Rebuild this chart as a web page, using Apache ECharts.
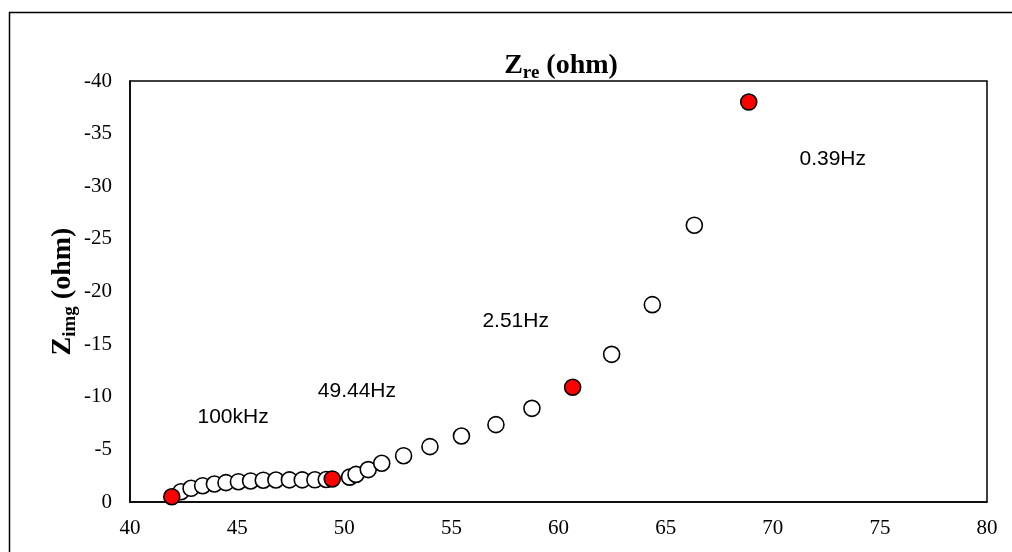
<!DOCTYPE html>
<html>
<head>
<meta charset="utf-8">
<script src="https://cdn.jsdelivr.net/npm/echarts@6/dist/echarts.min.js"></script>
<style>
  html, body { margin: 0; padding: 0; background: #fff; }
  #chart { width: 1012px; height: 552px; }
</style>
</head>
<body>
<div id="chart"></div>
<script>
// impedance points, in frequency order (high -> low)
var zRe = [41.95, 42.38, 42.85, 43.39, 43.94, 44.48, 45.06, 45.63, 46.22, 46.81, 47.44, 48.04, 48.63, 49.16, 49.44,
    50.25, 50.55, 51.12, 51.75, 52.77, 54.00, 55.47, 57.08, 58.76, 60.66, 62.48, 64.38, 66.34, 68.88];
var zImg = [-0.50, -0.98, -1.30, -1.55, -1.71, -1.84, -1.93, -2.00, -2.07, -2.09, -2.10, -2.10, -2.11, -2.14, -2.19,
    -2.36, -2.62, -3.08, -3.68, -4.40, -5.26, -6.27, -7.35, -8.90, -10.90, -14.03, -18.75, -26.30, -38.00];
// points drawn in red
var markedIdx = [0, 14, 24, 28];

// frequency notes
var noteText = ['100kHz', '49.44Hz', '2.51Hz', '0.39Hz'];
var noteX = [44.81, 50.59, 58.0, 72.8];
var noteY = [-8.08, -10.55, -17.2, -32.6];

var xTicks = { min: 40, max: 80, interval: 5 };
var yTicks = { min: -40, max: 0, interval: 5 };

var openPts = [], redPts = [];
for (var i = 0; i < zRe.length; i++) {
    if (markedIdx.indexOf(i) >= 0) redPts.push([zRe[i], zImg[i]]);
    else openPts.push([zRe[i], zImg[i]]);
}
var notePts = [];
for (var j = 0; j < noteText.length; j++) {
    notePts.push({ value: [noteX[j], noteY[j]], name: noteText[j] });
}

var myChart = echarts.init(document.getElementById('chart'));
var serif = '"Liberation Serif", "Times New Roman", serif';
var nameRich = {
    a: { fontFamily: serif, fontWeight: 'bold', fontSize: 28, color: '#000', lineHeight: 34, verticalAlign: 'middle' },
    b: { fontFamily: serif, fontWeight: 'bold', fontSize: 19, color: '#000', lineHeight: 19, padding: [15, 0, 0, 0], verticalAlign: 'middle' }
};
var option = {
    backgroundColor: '#fff',
    animation: false,
    graphic: [{
        type: 'rect',
        left: 7, top: 10,
        shape: { width: 1030, height: 570 },
        style: { fill: 'none', stroke: '#000', lineWidth: 1.5 },
        silent: true
    }],
    title: {
        text: '{a|Z}{b|re}{a| (ohm)}',
        left: 556, top: 44,
        textAlign: 'center',
        textStyle: { rich: nameRich }
    },
    grid: {
        left: 130, right: 25, top: 81, bottom: 50,
        show: true,
        borderColor: '#000',
        borderWidth: 1.5
    },
    xAxis: {
        type: 'value',
        min: xTicks.min, max: xTicks.max, interval: xTicks.interval,
        axisLine: { show: true, onZero: false, lineStyle: { color: '#000', width: 1.5 } },
        axisTick: { show: false },
        splitLine: { show: false },
        axisLabel: { color: '#000', fontFamily: serif, fontSize: 21, margin: 16 }
    },
    yAxis: {
        type: 'value',
        inverse: true,
        min: yTicks.min, max: yTicks.max, interval: yTicks.interval,
        name: '{a|Z}{b|img}{a| (ohm)}',
        nameLocation: 'middle',
        nameRotate: 90,
        nameGap: 50,
        nameMoveOverlap: false,
        nameTextStyle: { rich: nameRich },
        axisLine: { show: true, onZero: false, lineStyle: { color: '#000', width: 1.5 } },
        axisTick: { show: false },
        splitLine: { show: false },
        axisLabel: { color: '#000', fontFamily: serif, fontSize: 21, margin: 18 }
    },
    series: [
        {
            type: 'scatter',
            data: openPts,
            symbol: 'circle',
            symbolSize: 16,
            itemStyle: { color: '#fff', borderColor: '#000', borderWidth: 1.6, opacity: 1 }
        },
        {
            type: 'scatter',
            data: redPts,
            symbol: 'circle',
            symbolSize: 16,
            itemStyle: { color: '#ff0000', borderColor: '#000', borderWidth: 1.6, opacity: 1 }
        },
        {
            type: 'scatter',
            data: notePts,
            symbolSize: 0,
            silent: true,
            itemStyle: { color: '#000', opacity: 1 },
            label: {
                show: true,
                position: 'inside',
                formatter: '{b}',
                color: '#000',
                textBorderWidth: 0,
                fontFamily: '"Liberation Sans", Arial, sans-serif',
                fontSize: 21
            }
        }
    ]
};
myChart.setOption(option);
</script>
</body>
</html>
